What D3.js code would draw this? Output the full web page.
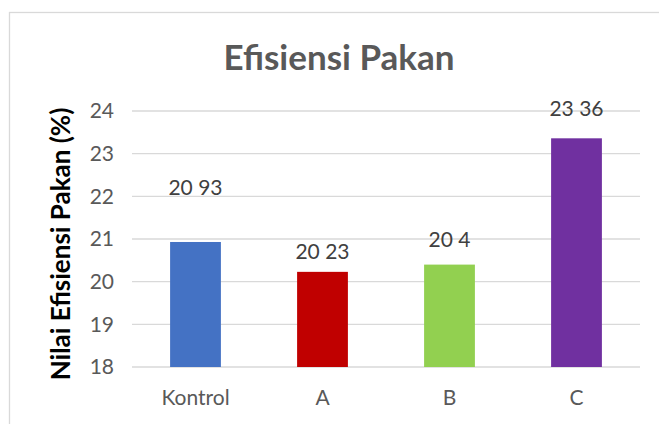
<!DOCTYPE html>
<html><head><meta charset="utf-8">
<script src="https://cdn.jsdelivr.net/npm/d3@7"></script>
<style>body{margin:0;background:#fff}</style>
</head><body>
<svg id="c" width="659" height="424"></svg>
<script>
const categories = ["Kontrol", "A", "B", "C"];
const values = [20.93, 20.23, 20.4, 23.36];
const valueLabels = ["20 93", "20 23", "20 4", "23 36"];
const colors = ["#4472C4", "#C00000", "#92D050", "#7030A0"];
const yTicks = [18, 19, 20, 21, 22, 23, 24];

const svg = d3.select("#c");
const font = "Lato, 'Open Sans', sans-serif";
// chart border
svg.append("rect").attr("x", 9.5).attr("y", 12.5).attr("width", 700).attr("height", 500)
  .attr("fill", "none").attr("stroke", "#d9d9d9").attr("stroke-width", 1.3);

const x = d3.scaleBand().domain(categories).range([132, 640]).paddingInner(0.6).paddingOuter(0.3);
const y = d3.scaleLinear().domain([18, 24]).range([367, 111]);

// gridlines
svg.append("g").selectAll("line").data(yTicks).join("line")
  .attr("x1", 132).attr("x2", 640)
  .attr("y1", d => y(d)).attr("y2", d => y(d))
  .attr("stroke", "#d9d9d9").attr("stroke-width", 1.3);

// y axis
const ya = svg.append("g").attr("transform", "translate(114,0)")
  .call(d3.axisLeft(y).tickValues(yTicks).tickFormat(d3.format("d")).tickSize(0).tickPadding(0));
ya.select(".domain").remove();
ya.selectAll("text").attr("font-family", font).attr("font-size", 21).attr("fill", "#595959");

// bars
svg.append("g").selectAll("rect").data(values).join("rect")
  .attr("x", (d, i) => x(categories[i]))
  .attr("width", x.bandwidth())
  .attr("y", d => y(d))
  .attr("height", d => y(18) - y(d))
  .attr("fill", (d, i) => colors[i]);

// x axis
const xa = svg.append("g").attr("transform", "translate(0,367)")
  .call(d3.axisBottom(x).tickSize(0).tickPadding(23));
xa.select(".domain").remove();
xa.selectAll("text").attr("font-family", font).attr("font-size", 21).attr("fill", "#595959");

// value labels (manually placed as in the reference)
const labelGap = [47, 13, 18, 22];
svg.append("g").selectAll("text").data(values).join("text")
  .attr("x", (d, i) => x(categories[i]) + x.bandwidth() / 2)
  .attr("y", (d, i) => y(d) - labelGap[i])
  .attr("text-anchor", "middle")
  .attr("font-family", font).attr("font-size", 21).attr("fill", "#404040")
  .text((d, i) => valueLabels[i]);

// title
svg.append("text").attr("x", 339).attr("y", 70).attr("text-anchor", "middle")
  .attr("font-family", font).attr("font-size", 35).attr("font-weight", "bold").attr("fill", "#595959")
  .text("Efisiensi Pakan");

// y title
svg.append("text").attr("transform", "translate(70,244) rotate(-90)").attr("text-anchor", "middle")
  .attr("font-family", font).attr("font-size", 26).attr("font-weight", "bold").attr("fill", "#000")
  .text("Nilai Efisiensi Pakan (%)");
</script>
</body></html>
